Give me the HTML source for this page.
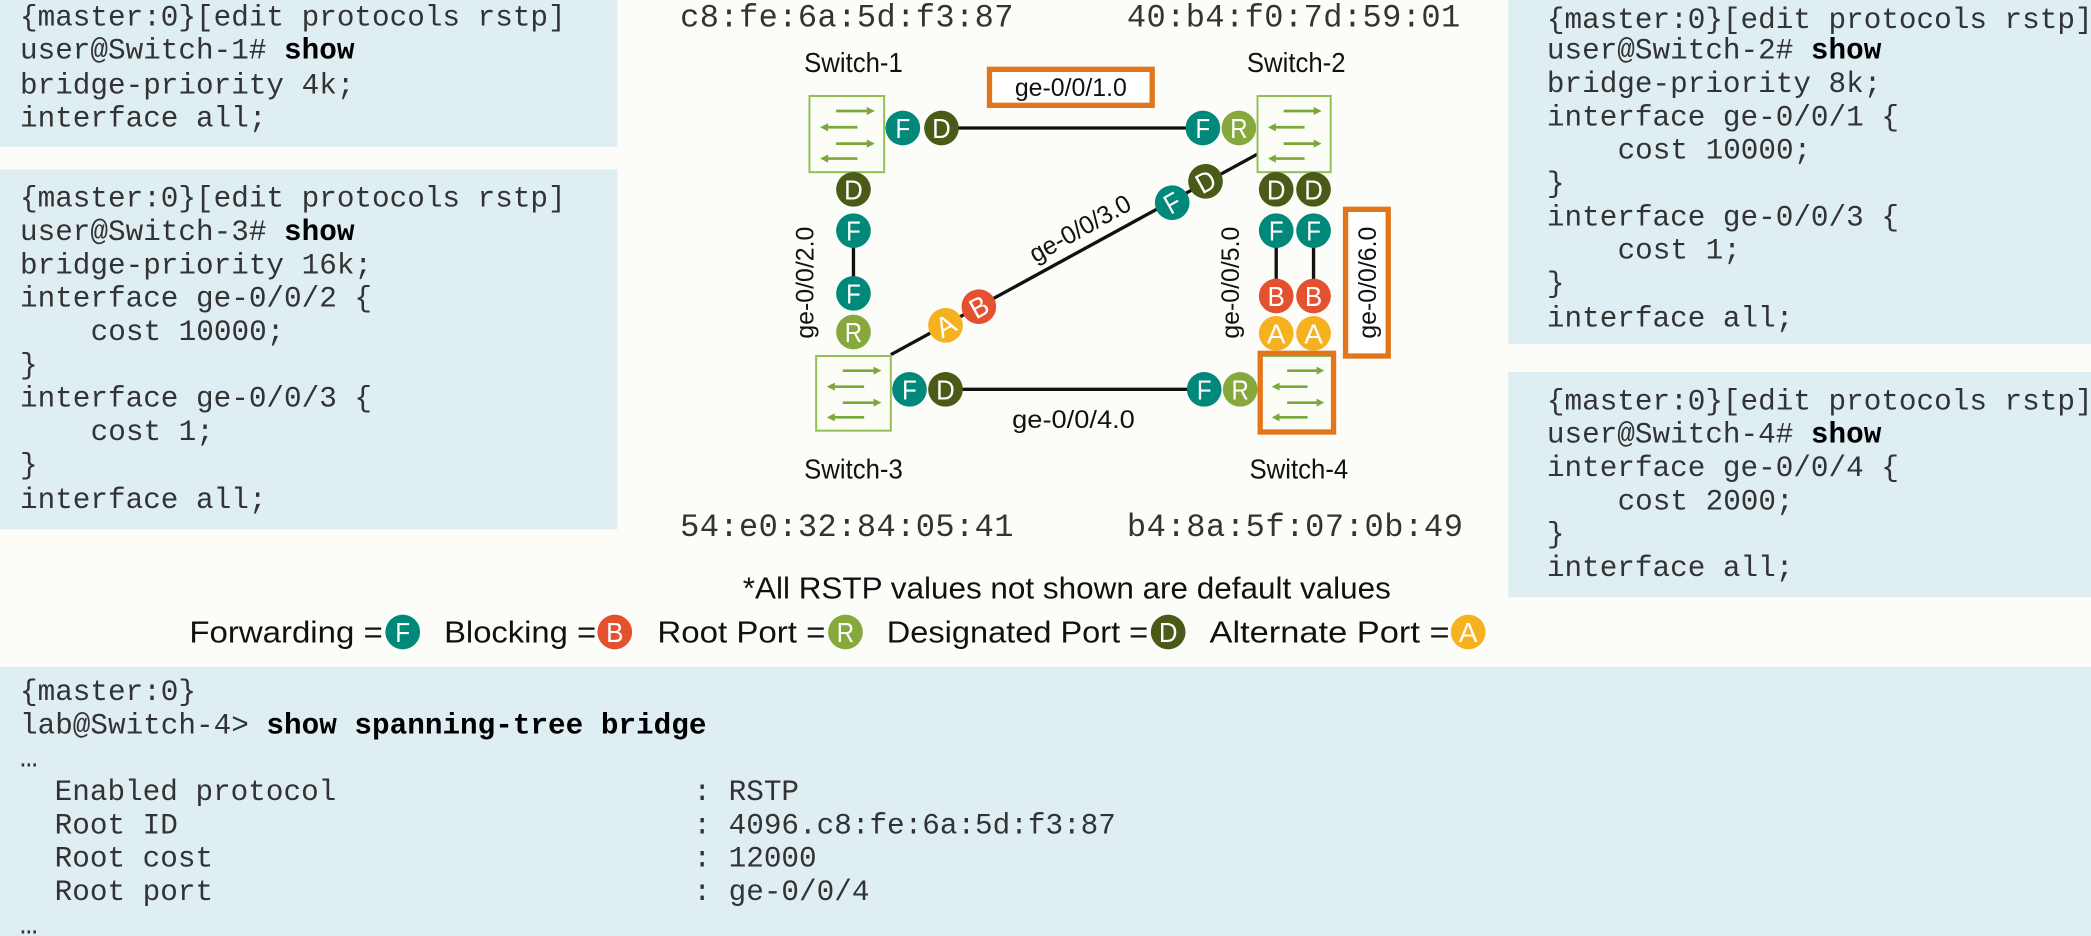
<!DOCTYPE html>
<html><head><meta charset="utf-8"><style>
html,body{margin:0;padding:0;background:#fcfcf9;}
svg{display:block}
text{white-space:pre}
.m{font-family:"Liberation Mono",monospace;font-size:22px;fill:#333}
.b{font-weight:bold;fill:#000}
.s{font-family:"Liberation Sans",sans-serif;fill:#111}
.c text{font-family:"Liberation Sans",sans-serif;font-size:21px;fill:#fff;text-anchor:middle}
</style></head><body>
<svg width="2091" height="936" viewBox="0 0 1568 702" preserveAspectRatio="none" xmlns="http://www.w3.org/2000/svg" xml:space="preserve">
<defs>
<g id="sw">
<rect x="0" y="0" width="56" height="56" fill="#fbfdf6" stroke="#93c056" stroke-width="1.5"/>
<g stroke="#7aa83a" stroke-width="2" fill="#7aa83a">
<line x1="20" y1="11" x2="46" y2="11"/><path d="M49 11 l-6 -3 v6z" stroke="none"/>
<line x1="12" y1="23" x2="36" y2="23"/><path d="M8 23 l6 -3 v6z" stroke="none"/>
<line x1="20" y1="35" x2="46" y2="35"/><path d="M49 35 l-6 -3 v6z" stroke="none"/>
<line x1="12" y1="46" x2="36" y2="46"/><path d="M8 46 l6 -3 v6z" stroke="none"/>
</g></g>
<g id="F" class="c"><circle r="13" fill="#00887a"/><text y="7.5" textLength="11" lengthAdjust="spacingAndGlyphs">F</text></g>
<g id="D" class="c"><circle r="13" fill="#4a5a17"/><text y="7.5" textLength="14" lengthAdjust="spacingAndGlyphs">D</text></g>
<g id="R" class="c"><circle r="13" fill="#86a83c"/><text y="7.5" textLength="13" lengthAdjust="spacingAndGlyphs">R</text></g>
<g id="B" class="c"><circle r="13" fill="#e4512e"/><text y="7.5" textLength="13" lengthAdjust="spacingAndGlyphs">B</text></g>
<g id="A" class="c"><circle r="13" fill="#f6b11e"/><text y="7.5" textLength="14" lengthAdjust="spacingAndGlyphs">A</text></g>
</defs>
<rect width="1568" height="702" fill="#fcfcf9"/>
<rect x="0" y="0" width="463" height="110" fill="#deeef3"/>
<rect x="0" y="127" width="463" height="270" fill="#deeef3"/>
<rect x="1131" y="0" width="437" height="258" fill="#deeef3"/>
<rect x="1131" y="279" width="437" height="169" fill="#deeef3"/>
<rect x="0" y="500" width="1568" height="202" fill="#deeef3"/>

<g class="m">
<text x="15" y="19">{master:0}[edit protocols rstp]</text>
<text x="15" y="44">user@Switch-1# <tspan class="b">show</tspan></text>
<text x="15" y="70">bridge-priority 4k;</text>
<text x="15" y="95">interface all;</text>

<text x="15" y="155">{master:0}[edit protocols rstp]</text>
<text x="15" y="180">user@Switch-3# <tspan class="b">show</tspan></text>
<text x="15" y="205">bridge-priority 16k;</text>
<text x="15" y="230">interface ge-0/0/2 {</text>
<text x="68" y="255">cost 10000;</text>
<text x="15" y="280">}</text>
<text x="15" y="305">interface ge-0/0/3 {</text>
<text x="68" y="330">cost 1;</text>
<text x="15" y="355">}</text>
<text x="15" y="381">interface all;</text>

<text x="1160" y="21">{master:0}[edit protocols rstp]</text>
<text x="1160" y="44">user@Switch-2# <tspan class="b">show</tspan></text>
<text x="1160" y="69">bridge-priority 8k;</text>
<text x="1160" y="94">interface ge-0/0/1 {</text>
<text x="1213" y="119">cost 10000;</text>
<text x="1160" y="144">}</text>
<text x="1160" y="169">interface ge-0/0/3 {</text>
<text x="1213" y="194">cost 1;</text>
<text x="1160" y="219">}</text>
<text x="1160" y="245">interface all;</text>

<text x="1160" y="307">{master:0}[edit protocols rstp]</text>
<text x="1160" y="332">user@Switch-4# <tspan class="b">show</tspan></text>
<text x="1160" y="357">interface ge-0/0/4 {</text>
<text x="1213" y="382">cost 2000;</text>
<text x="1160" y="407">}</text>
<text x="1160" y="432">interface all;</text>

<text x="15" y="525">{master:0}</text>
<text x="15" y="550">lab@Switch-4&gt; <tspan class="b">show spanning-tree bridge</tspan></text>
<text x="15" y="575">…</text>
<text x="41" y="600">Enabled protocol</text><text x="520" y="600">: RSTP</text>
<text x="41" y="625">Root ID</text><text x="520" y="625">: 4096.c8:fe:6a:5d:f3:87</text>
<text x="41" y="650">Root cost</text><text x="520" y="650">: 12000</text>
<text x="41" y="675">Root port</text><text x="520" y="675">: ge-0/0/4</text>
<text x="15" y="700">…</text>
</g>

<g class="m" style="font-size:24px;fill:#333">
<text x="510" y="20" textLength="250">c8:fe:6a:5d:f3:87</text>
<text x="845" y="20" textLength="250">40:b4:f0:7d:59:01</text>
<text x="510" y="402" textLength="250">54:e0:32:84:05:41</text>
<text x="845" y="402" textLength="252">b4:8a:5f:07:0b:49</text>
</g>

<g class="s" style="font-size:21px" text-anchor="middle">
<text x="640" y="54" textLength="74" lengthAdjust="spacingAndGlyphs">Switch-1</text>
<text x="972" y="54" textLength="74" lengthAdjust="spacingAndGlyphs">Switch-2</text>
<text x="640" y="359" textLength="74" lengthAdjust="spacingAndGlyphs">Switch-3</text>
<text x="974" y="359" textLength="74" lengthAdjust="spacingAndGlyphs">Switch-4</text>
</g>

<g stroke="#111" stroke-width="2.5">
<line x1="706" y1="96" x2="902" y2="96"/>
<line x1="709" y1="292" x2="903" y2="292"/>
<line x1="640" y1="173" x2="640" y2="220"/>
<line x1="668" y1="266" x2="944" y2="115"/>
<line x1="957" y1="173" x2="957" y2="222"/>
<line x1="985" y1="173" x2="985" y2="222"/>
</g>

<use href="#sw" transform="translate(607,72) scale(1.0,1.02)"/>
<use href="#sw" transform="translate(943,72) scale(0.98,1.02)"/>
<use href="#sw" transform="translate(612,267)"/>
<use href="#sw" transform="translate(946,267) scale(0.96,1.0)"/>
<rect x="945" y="265" width="55" height="59" fill="none" stroke="#e2761c" stroke-width="4"/>

<rect x="742" y="52" width="122" height="27" fill="#fff" stroke="#e2761c" stroke-width="4"/>
<text class="s" x="803" y="72" text-anchor="middle" style="font-size:19px" textLength="84" lengthAdjust="spacingAndGlyphs">ge-0/0/1.0</text>
<rect x="1009" y="157" width="32" height="110" fill="#fff" stroke="#e2761c" stroke-width="4"/>
<text class="s" transform="translate(1032,212) rotate(-90)" text-anchor="middle" style="font-size:19px" textLength="84" lengthAdjust="spacingAndGlyphs">ge-0/0/6.0</text>

<g class="s" style="font-size:19px" text-anchor="middle">
<text transform="translate(610,212) rotate(-90)" textLength="84" lengthAdjust="spacingAndGlyphs">ge-0/0/2.0</text>
<text transform="translate(929,212) rotate(-90)" textLength="84" lengthAdjust="spacingAndGlyphs">ge-0/0/5.0</text>
<text transform="translate(813,177) rotate(-29)" textLength="84" lengthAdjust="spacingAndGlyphs">ge-0/0/3.0</text>
<text x="805" y="321" textLength="92" lengthAdjust="spacingAndGlyphs">ge-0/0/4.0</text>
</g>

<use href="#F" x="677" y="96"/><use href="#D" x="706" y="96"/>
<use href="#F" x="902" y="96"/><use href="#R" x="929" y="96"/>
<use href="#D" x="640" y="142"/><use href="#F" x="640" y="173"/>
<use href="#F" x="640" y="220"/><use href="#R" x="640" y="249"/>
<use href="#F" x="682" y="292"/><use href="#D" x="709" y="292"/>
<use href="#F" x="903" y="292"/><use href="#R" x="930" y="292"/>
<use href="#D" x="957" y="142"/><use href="#D" x="985" y="142"/>
<use href="#F" x="957" y="173"/><use href="#F" x="985" y="173"/>
<use href="#B" x="957" y="222"/><use href="#B" x="985" y="222"/>
<use href="#A" x="957" y="250"/><use href="#A" x="985" y="250"/>
<g transform="translate(709,244) rotate(-29)"><use href="#A"/></g>
<g transform="translate(734,230) rotate(-29)"><use href="#B"/></g>
<g transform="translate(879,152) rotate(-29)"><use href="#F"/></g>
<g transform="translate(904,136) rotate(-29)"><use href="#D"/></g>

<text class="s" x="800" y="449" text-anchor="middle" style="font-size:23px" textLength="486" lengthAdjust="spacingAndGlyphs">*All RSTP values not shown are default values</text>
<g class="s" style="font-size:23px">
<text x="142" y="482" textLength="145" lengthAdjust="spacingAndGlyphs">Forwarding =</text>
<text x="333" y="482" textLength="114" lengthAdjust="spacingAndGlyphs">Blocking =</text>
<text x="493" y="482" textLength="126" lengthAdjust="spacingAndGlyphs">Root Port =</text>
<text x="665" y="482" textLength="196" lengthAdjust="spacingAndGlyphs">Designated Port =</text>
<text x="907" y="482" textLength="180" lengthAdjust="spacingAndGlyphs">Alternate Port =</text>
</g>
<use href="#F" x="302" y="474"/><use href="#B" x="461" y="474"/>
<use href="#R" x="634" y="474"/><use href="#D" x="876" y="474"/>
<use href="#A" x="1101" y="474"/>
</svg>
</body></html>
